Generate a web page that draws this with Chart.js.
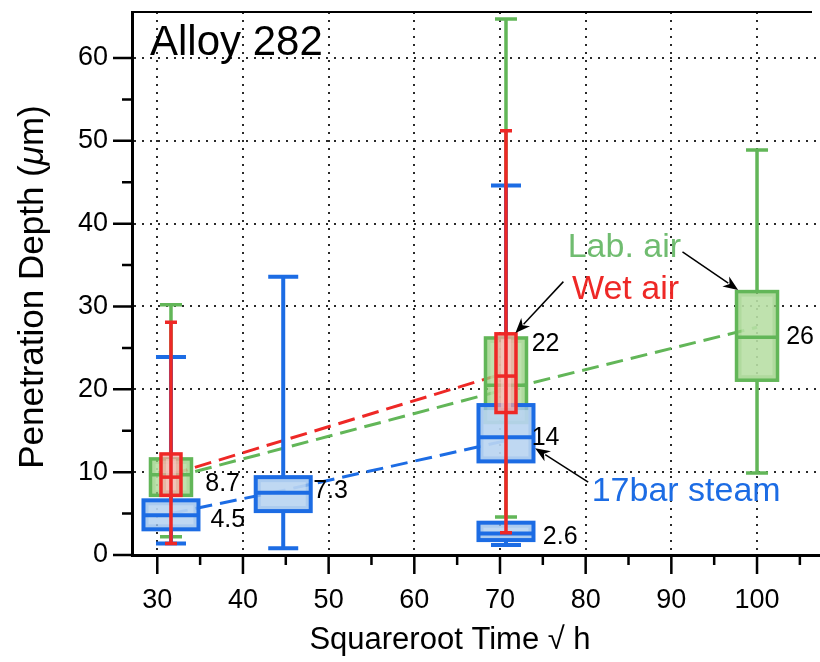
<!DOCTYPE html>
<html>
<head>
<meta charset="utf-8">
<script src="https://cdn.jsdelivr.net/npm/chart.js@4.4.1/dist/chart.umd.min.js"></script>
<style>
  html, body { margin: 0; padding: 0; background: #fff; }
  canvas { display: block; }
</style>
</head>
<body>
<canvas id="boxChart" width="820" height="662"></canvas>
<script>
// tick labels
const xTicks = [30, 40, 50, 60, 70, 80, 90, 100];
const xMinor = [35, 45, 55, 65, 75, 85, 95, 105];
const yTicks = [0, 10, 20, 30, 40, 50, 60];
const yMinor = [5, 15, 25, 35, 45, 55];

// Lab. air  (x = sqrt of exposure hours)
const labX   = [31.6, 70.7, 100];
const labMin = [2.2, 4.6, 9.9];
const labQ1  = [7.2, 16.0, 21.1];
const labMed = [9.7, 20.5, 26.3];
const labQ3  = [11.6, 26.2, 31.8];
const labMax = [30.2, 64.7, 48.9];
const labMean = [9.3, 20.0, 27.5];

// Wet air
const wetX   = [31.6, 70.7];
const wetMin = [1.4, 2.7];
const wetQ1  = [7.2, 17.2];
const wetMed = [9.4, 21.6];
const wetQ3  = [12.2, 26.7];
const wetMax = [28.1, 51.2];
const wetMean = [9.7, 22.0];

// 17bar steam
const steamX   = [31.6, 44.7, 70.7, 70.7];
const steamMin = [1.4, 0.8, 11.3, 1.2];
const steamQ1  = [3.1, 5.3, 11.3, 1.8];
const steamMed = [4.8, 7.5, 14.2, 2.6];
const steamQ3  = [6.6, 9.4, 18.1, 3.9];
const steamMax = [23.9, 33.6, 44.6, 3.9];
const steamMeanX = [31.6, 44.7, 70.7];
const steamMean  = [5.0, 7.8, 13.8];

// printed values next to the boxes
const valueTexts = ['8.7', '4.5', '7.3', '22', '14', '2.6', '26'];

const GREEN = 'rgb(98,182,88)';
const RED = 'rgb(238,40,38)';
const BLUE = 'rgb(28,108,228)';
const FONT = "'Liberation Sans', Arial, Helvetica, sans-serif";

const boxSeries = [
    { x: labX, min: labMin, q1: labQ1, med: labMed, q3: labQ3, max: labMax,
      stroke: GREEN, fill: 'rgba(150,205,125,0.75)', inner: 'rgba(200,232,185,0.6)', half: 20.5, cap: 11, lw: 3.5, through: false },
    { x: steamX, min: steamMin, q1: steamQ1, med: steamMed, q3: steamQ3, max: steamMax,
      stroke: BLUE, fill: 'rgba(150,190,235,0.8)', inner: 'rgba(205,225,245,0.6)', half: 27.5, cap: 15, lw: 4, through: false },
    { x: wetX, min: wetMin, q1: wetQ1, med: wetMed, q3: wetQ3, max: wetMax,
      stroke: RED, fill: 'rgba(245,165,160,0.7)', inner: 'rgba(250,205,200,0.55)', half: 10, cap: 6, lw: 3.5, through: true }
];

function pts(xs, ys) {
    return xs.map((x, i) => ({ x: x, y: ys[i] }));
}

function meanLine(data, color) {
    return {
        type: 'line',
        data: data,
        borderColor: color,
        borderWidth: 3,
        borderDash: [17, 8],
        pointRadius: 0,
        fill: false,
        tension: 0
    };
}

const boxPlugin = {
    id: 'boxes',
    afterDatasetsDraw(chart) {
        const { ctx, scales: { x, y } } = chart;
        ctx.save();
        boxSeries.forEach(s => {
            s.x.forEach((xv, i) => {
                const px = x.getPixelForValue(xv);
                const yMin = y.getPixelForValue(s.min[i]);
                const yQ1 = y.getPixelForValue(s.q1[i]);
                const yMed = y.getPixelForValue(s.med[i]);
                const yQ3 = y.getPixelForValue(s.q3[i]);
                const yMax = y.getPixelForValue(s.max[i]);
                ctx.strokeStyle = s.stroke;
                ctx.lineWidth = s.lw;
                ctx.setLineDash([]);

                // box
                ctx.fillStyle = s.fill;
                ctx.fillRect(px - s.half, yQ3, s.half * 2, yQ1 - yQ3);
                ctx.fillStyle = s.inner;
                ctx.fillRect(px - s.half + 5, yQ3 + 5, s.half * 2 - 10, Math.max(yQ1 - yQ3 - 10, 0));
                ctx.strokeRect(px - s.half, yQ3, s.half * 2, yQ1 - yQ3);
                ctx.beginPath();
                ctx.moveTo(px - s.half, yMed);
                ctx.lineTo(px + s.half, yMed);
                ctx.stroke();

                // whiskers + caps
                ctx.beginPath();
                if (s.through) {
                    ctx.moveTo(px, yMax);
                    ctx.lineTo(px, yMin);
                } else {
                    if (s.max[i] > s.q3[i]) { ctx.moveTo(px, yQ3); ctx.lineTo(px, yMax); }
                    if (s.min[i] < s.q1[i]) { ctx.moveTo(px, yQ1); ctx.lineTo(px, yMin); }
                }
                if (s.max[i] > s.q3[i]) { ctx.moveTo(px - s.cap, yMax); ctx.lineTo(px + s.cap, yMax); }
                if (s.min[i] < s.q1[i]) { ctx.moveTo(px - s.cap, yMin); ctx.lineTo(px + s.cap, yMin); }
                ctx.stroke();
            });
        });
        ctx.restore();
    }
};

function arrow(ctx, x1, y1, x2, y2) {
    const a = Math.atan2(y2 - y1, x2 - x1);
    const len = 15, w = 6;
    ctx.beginPath();
    ctx.moveTo(x1, y1);
    ctx.lineTo(x2 - Math.cos(a) * len * 0.8, y2 - Math.sin(a) * len * 0.8);
    ctx.stroke();
    ctx.beginPath();
    ctx.moveTo(x2, y2);
    ctx.lineTo(x2 - Math.cos(a) * len + Math.sin(a) * w, y2 - Math.sin(a) * len - Math.cos(a) * w);
    ctx.lineTo(x2 - Math.cos(a) * len * 0.7, y2 - Math.sin(a) * len * 0.7);
    ctx.lineTo(x2 - Math.cos(a) * len - Math.sin(a) * w, y2 - Math.sin(a) * len + Math.cos(a) * w);
    ctx.closePath();
    ctx.fill();
}

const decorPlugin = {
    id: 'decor',
    afterDraw(chart) {
        const { ctx, chartArea: area, scales: { x, y } } = chart;
        ctx.save();
        ctx.strokeStyle = '#000';
        ctx.fillStyle = '#000';

        // frame top line
        ctx.lineWidth = 2;
        ctx.beginPath();
        ctx.moveTo(area.left, area.top);
        ctx.lineTo(area.right - 8, area.top);
        ctx.stroke();

        // tick marks
        ctx.lineWidth = 2.5;
        ctx.beginPath();
        xTicks.forEach(v => { const p = x.getPixelForValue(v); ctx.moveTo(p, area.bottom); ctx.lineTo(p, area.bottom + 19); });
        xMinor.forEach(v => { const p = x.getPixelForValue(v); ctx.moveTo(p, area.bottom); ctx.lineTo(p, area.bottom + 10); });
        yTicks.forEach(v => { const p = y.getPixelForValue(v); ctx.moveTo(area.left, p); ctx.lineTo(area.left - 19, p); });
        yMinor.forEach(v => { const p = y.getPixelForValue(v); ctx.moveTo(area.left, p); ctx.lineTo(area.left - 10, p); });
        ctx.stroke();

        // axis titles
        ctx.textBaseline = 'middle';
        ctx.textAlign = 'center';
        ctx.font = '31px ' + FONT;
        ctx.fillText('Squareroot Time \u221A h', 450, 640);

        ctx.save();
        ctx.translate(33, 287);
        ctx.rotate(-Math.PI / 2);
        const pre = 'Penetration Depth (', mu = '\u03BC', post = 'm)';
        ctx.font = '35px ' + FONT;
        const w1 = ctx.measureText(pre).width;
        const w3 = ctx.measureText(post).width;
        ctx.font = 'italic 35px ' + FONT;
        const w2 = ctx.measureText(mu).width;
        let sx = -(w1 + w2 + w3) / 2;
        ctx.textAlign = 'left';
        ctx.font = '35px ' + FONT;
        ctx.fillText(pre, sx, 0);
        ctx.font = 'italic 35px ' + FONT;
        ctx.fillText(mu, sx + w1, 0);
        ctx.font = '35px ' + FONT;
        ctx.fillText(post, sx + w1 + w2, 0);
        ctx.restore();

        // title in the plot
        ctx.textAlign = 'left';
        ctx.textBaseline = 'alphabetic';
        ctx.font = '42px ' + FONT;
        ctx.fillText('Alloy 282', area.left + 18, area.top + 43);

        // values beside the boxes
        const valueAt = [[35.6, 8.6], [36.2, 4.2], [48.2, 7.7], [73.7, 25.4], [73.7, 14.1], [75.0, 2.2], [103.4, 26.3]];
        ctx.textBaseline = 'middle';
        ctx.font = '25px ' + FONT;
        valueTexts.forEach((t, i) => {
            ctx.fillText(t, x.getPixelForValue(valueAt[i][0]), y.getPixelForValue(valueAt[i][1]));
        });

        // legend-like labels with arrows
        ctx.font = '34px ' + FONT;
        ctx.fillStyle = 'rgb(112,188,112)';
        ctx.fillText('Lab. air', x.getPixelForValue(77.9), y.getPixelForValue(37.1));
        ctx.fillStyle = RED;
        ctx.fillText('Wet air', x.getPixelForValue(78.4), y.getPixelForValue(32.0));
        ctx.fillStyle = BLUE;
        ctx.fillText('17bar steam', x.getPixelForValue(80.7), y.getPixelForValue(7.6));

        ctx.fillStyle = '#000';
        ctx.strokeStyle = '#000';
        ctx.lineWidth = 1.5;
        arrow(ctx, x.getPixelForValue(91.3), y.getPixelForValue(36.6), x.getPixelForValue(97.8), y.getPixelForValue(32.0));
        arrow(ctx, x.getPixelForValue(77.4), y.getPixelForValue(33.0), x.getPixelForValue(71.8), y.getPixelForValue(26.8));
        arrow(ctx, x.getPixelForValue(80.3), y.getPixelForValue(8.8), x.getPixelForValue(74.1), y.getPixelForValue(12.9));
        ctx.restore();
    }
};

const gridColor = c => (c.tick && c.tick.value === 0) ? 'rgba(0,0,0,0)' : '#2a2a2a';

new Chart(document.getElementById('boxChart'), {
    type: 'scatter',
    data: {
        datasets: [
            meanLine(pts(labX, labMean), GREEN),
            meanLine(pts(wetX, wetMean), RED),
            meanLine(pts(steamMeanX, steamMean), BLUE)
        ]
    },
    options: {
        responsive: false,
        animation: false,
        layout: { padding: { top: 12, right: 0, left: 0, bottom: 0 } },
        plugins: { legend: { display: false }, tooltip: { enabled: false } },
        scales: {
            x: {
                type: 'linear',
                min: 27.05,
                max: 107.35,
                afterBuildTicks: s => { s.ticks = xTicks.map(v => ({ value: v })); },
                afterFit: s => { s.height = 107; s.paddingLeft = 0; s.paddingRight = 0; },
                grid: { color: gridColor, lineWidth: 2, drawTicks: false },
                border: { display: true, color: '#000', width: 3, dash: [2, 6] },
                ticks: { padding: 29, color: '#000', font: { family: FONT, size: 27 } }
            },
            y: {
                type: 'linear',
                min: 0,
                max: 65.55,
                afterBuildTicks: s => { s.ticks = yTicks.map(v => ({ value: v })); },
                afterFit: s => { s.width = 132; s.paddingTop = 0; s.paddingBottom = 0; },
                grid: { color: gridColor, lineWidth: 2, drawTicks: false },
                border: { display: true, color: '#000', width: 3, dash: [2, 6] },
                ticks: { padding: 24, color: '#000', font: { family: FONT, size: 27 } }
            }
        }
    },
    plugins: [boxPlugin, decorPlugin]
});
</script>
</body>
</html>
